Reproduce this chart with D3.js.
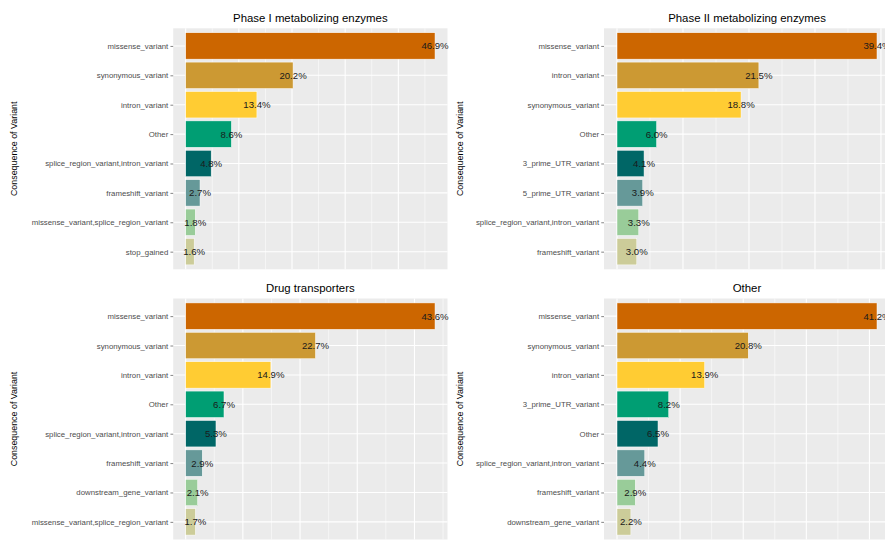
<!DOCTYPE html>
<html>
<head>
<meta charset="utf-8">
<script src="https://cdn.jsdelivr.net/npm/d3@7"></script>
<style>
  html, body { margin: 0; padding: 0; background: #fff; }
  svg { display: block; font-family: "Liberation Sans", Arial, sans-serif; }
</style>
</head>
<body>
<svg id="chart" width="885" height="540"></svg>
<script>
// ---- data ----
const panelTitles = ["Phase I metabolizing enzymes", "Phase II metabolizing enzymes", "Drug transporters", "Other"];

const phase1Categories = ["missense_variant", "synonymous_variant", "intron_variant", "Other",
  "splice_region_variant,intron_variant", "frameshift_variant", "missense_variant,splice_region_variant", "stop_gained"];
const phase1Values = [46.9, 20.2, 13.4, 8.6, 4.8, 2.7, 1.8, 1.6];

const phase2Categories = ["missense_variant", "intron_variant", "synonymous_variant", "Other",
  "3_prime_UTR_variant", "5_prime_UTR_variant", "splice_region_variant,intron_variant", "frameshift_variant"];
const phase2Values = [39.4, 21.5, 18.8, 6.0, 4.1, 3.9, 3.3, 3.0];

const transporterCategories = ["missense_variant", "synonymous_variant", "intron_variant", "Other",
  "splice_region_variant,intron_variant", "frameshift_variant", "downstream_gene_variant", "missense_variant,splice_region_variant"];
const transporterValues = [43.6, 22.7, 14.9, 6.7, 5.3, 2.9, 2.1, 1.7];

const otherCategories = ["missense_variant", "synonymous_variant", "intron_variant", "3_prime_UTR_variant",
  "Other", "splice_region_variant,intron_variant", "frameshift_variant", "downstream_gene_variant"];
const otherValues = [41.2, 20.8, 13.9, 8.2, 6.5, 4.4, 2.9, 2.2];

const rankColors = ["#CC6600", "#CC9933", "#FFCC33", "#009E73", "#006666", "#669999", "#99CC99", "#CCCC99"];
const yAxisTitle = "Consequence of Variant";

// ---- layout ----
const svg = d3.select("#chart");
const panels = [
  { title: panelTitles[0], cats: phase1Categories, vals: phase1Values, x0: 173.2, x1: 447.5, y0: 28.3, y1: 269.3, axisTitleX: 14 },
  { title: panelTitles[1], cats: phase2Categories, vals: phase2Values, x0: 604, x1: 890, y0: 28.3, y1: 269.3, axisTitleX: 460 },
  { title: panelTitles[2], cats: transporterCategories, vals: transporterValues, x0: 173.2, x1: 447.5, y0: 298.5, y1: 539.5, axisTitleX: 14 },
  { title: panelTitles[3], cats: otherCategories, vals: otherValues, x0: 604, x1: 890, y0: 298.5, y1: 539.5, axisTitleX: 460 }
];

panels.forEach(p => {
  const g = svg.append("g");
  const maxV = d3.max(p.vals);
  const x = d3.scaleLinear().domain([-0.05 * maxV, 1.05 * maxV]).range([p.x0, p.x1]);
  // discrete axis with ggplot-like 0.6 expansion
  const n = p.cats.length;
  const step = (p.y1 - p.y0) / (n - 1 + 1.2);
  const y = d3.scalePoint().domain(p.cats).range([p.y0 + 0.6 * step, p.y1 - 0.6 * step]);

  // panel background
  g.append("rect").attr("x", p.x0).attr("y", p.y0)
    .attr("width", p.x1 - p.x0).attr("height", p.y1 - p.y0).attr("fill", "#EBEBEB");

  const [dmin, dmax] = x.domain();
  const majors = d3.range(Math.ceil(dmin / 10) * 10, dmax + 1e-9, 10);
  const minors = d3.range(Math.ceil(dmin / 5) * 5, dmax + 1e-9, 5).filter(v => Math.abs(v % 10) > 1e-9);

  g.selectAll(".minor").data(minors).join("line")
    .attr("x1", d => x(d)).attr("x2", d => x(d))
    .attr("y1", p.y0).attr("y2", p.y1)
    .attr("stroke", "#fff").attr("stroke-width", 0.55);
  g.selectAll(".major").data(majors).join("line")
    .attr("x1", d => x(d)).attr("x2", d => x(d))
    .attr("y1", p.y0).attr("y2", p.y1)
    .attr("stroke", "#fff").attr("stroke-width", 1.07);
  g.selectAll(".hgrid").data(p.cats).join("line")
    .attr("x1", p.x0).attr("x2", p.x1)
    .attr("y1", d => y(d)).attr("y2", d => y(d))
    .attr("stroke", "#fff").attr("stroke-width", 1.07);

  // bars
  const bh = step * 0.9;
  g.selectAll(".bar").data(p.cats).join("rect")
    .attr("x", x(0))
    .attr("y", d => y(d) - bh / 2)
    .attr("width", (d, i) => x(p.vals[i]) - x(0))
    .attr("height", bh)
    .attr("fill", (d, i) => rankColors[i])
    .attr("stroke", "#fff").attr("stroke-width", 0.5);

  // value labels
  g.selectAll(".lab").data(p.cats).join("text")
    .attr("x", (d, i) => x(p.vals[i]))
    .attr("y", d => y(d))
    .attr("dy", "0.36em")
    .attr("text-anchor", "middle")
    .attr("font-size", "9.6px")
    .attr("fill", "#1a1a1a")
    .text((d, i) => p.vals[i].toFixed(1) + "%");

  // y axis
  const axis = d3.axisLeft(y).tickSize(2.75).tickPadding(2.2);
  const ag = g.append("g").attr("transform", `translate(${p.x0},0)`).call(axis);
  ag.select(".domain").remove();
  ag.selectAll(".tick line").attr("stroke", "#333").attr("stroke-width", 0.6);
  ag.selectAll(".tick text").attr("fill", "#4D4D4D").attr("font-size", "7.8px")
    .attr("font-family", "'Liberation Sans', Arial, sans-serif");

  // titles
  g.append("text")
    .attr("x", (p.x0 + p.x1) / 2).attr("y", p.y0 - 6.5)
    .attr("text-anchor", "middle").attr("font-size", "11.4px").attr("fill", "#000")
    .text(p.title);

  g.append("text")
    .attr("transform", `translate(${p.axisTitleX + 3},${(p.y0 + p.y1) / 2}) rotate(-90)`)
    .attr("text-anchor", "middle").attr("font-size", "8.9px").attr("fill", "#000")
    .text(yAxisTitle);
});
</script>
</body>
</html>
